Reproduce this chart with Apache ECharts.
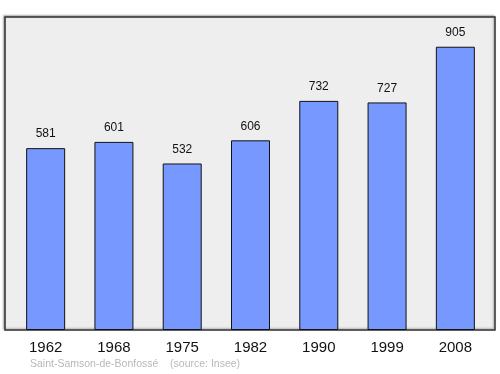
<!DOCTYPE html>
<html><head><meta charset="utf-8">
<script src="https://cdn.jsdelivr.net/npm/echarts@6/dist/echarts.min.js"></script>
<style>html,body{margin:0;padding:0;background:#fff}#c{width:500px;height:374px}</style>
</head><body><div id="c"></div>
<script>
const years = ['1962','1968','1975','1982','1990','1999','2008'];
const population = [581, 601, 532, 606, 732, 727, 905];
const footer = 'Saint-Samson-de-Bonfossé    (source: Insee)';

const chart = echarts.init(document.getElementById('c'), null, {renderer:'canvas'});
chart.setOption({
  animation: false,
  backgroundColor: '#ffffff',
  graphic: [
    {type:'rect', shape:{x:5,y:17,width:490,height:313}, style:{fill:'#eeeeee', stroke:'#333', lineWidth:1.5, shadowColor:'rgba(0,0,0,0.3)', shadowBlur:2, shadowOffsetX:-1, shadowOffsetY:-1}, z:-10},
    {type:'text', left:30, top:359, style:{text:footer, fill:'#b8b8b8', font:'10.5px "Liberation Sans", Arial, sans-serif'}}
  ],
  grid: {left:11.5, top:17, width:478, height:313},
  xAxis: {
    type:'category', data: years,
    axisLine:{show:false}, axisTick:{show:false},
    axisLabel:{color:'#111', fontSize:15, margin:10, fontFamily:'"Liberation Sans", Arial, sans-serif'}
  },
  yAxis: {type:'value', min:0, max:1000, show:false, splitLine:{show:false}},
  series: [{
    type:'bar', data: population, barWidth:39,
    itemStyle:{color:'#7799ff', borderColor:'#111', borderWidth:1},
    label:{show:true, position:'top', distance:8, color:'#111', fontSize:12, fontFamily:'"Liberation Sans", Arial, sans-serif'}
  }]
});
</script></body></html>
